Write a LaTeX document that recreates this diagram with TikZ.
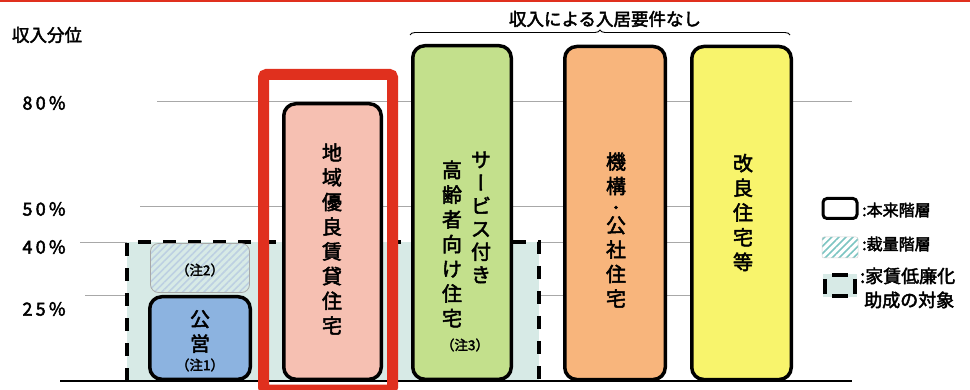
\documentclass[tikz,border=0pt]{standalone}
\usepackage{fontspec}
\setmainfont{Noto Sans CJK JP}[FakeBold=2.5]
\newfontfamily\pctfont{Noto Sans CJK JP}[FakeBold=2.5,LetterSpace=18]
\usetikzlibrary{patterns.meta,decorations.pathreplacing}
\definecolor{redc}{HTML}{E0301E}
\definecolor{tealc}{HTML}{D7EAE6}
\definecolor{bluec}{HTML}{8CB3E0}
\definecolor{pinkc}{HTML}{F6C0B2}
\definecolor{greenc}{HTML}{C3E08C}
\definecolor{orangec}{HTML}{F8B57C}
\definecolor{yellowc}{HTML}{F8F46C}
\definecolor{gridc}{HTML}{A8A8A8}
\definecolor{hatchb}{HTML}{BDD0E2}
\definecolor{hatcht}{HTML}{7CC5C2}
\newcommand{\vbar}{{\addfontfeature{RawFeature=+vert}ー}}
\tikzset{
  grid/.style={draw=gridc, line width=0.8pt},
  bar/.style={draw=black, line width=3.5pt, rounded corners=12pt, inner sep=0pt},
  vtext/.style={align=center, inner sep=0pt, font=\fontsize{20}{24.7}\selectfont},
  lab/.style={inner sep=0pt, font=\fontsize{17.5}{20}\selectfont},
  pct/.style={inner sep=0pt, font=\pctfont\fontsize{18}{20}\selectfont},
  note/.style={inner sep=0pt, font=\fontsize{13.5}{16}\selectfont},
  leg/.style={inner sep=0pt, anchor=west, align=left},
  dsh/.style={line width=4pt, dash pattern=on 13pt off 12pt}
}
\begin{document}
\begin{tikzpicture}[x=1pt,y=-1pt]
\useasboundingbox (0,0) rectangle (970,390);
\fill[white] (0,0) rectangle (970,390);
\fill[redc] (0,0) rectangle (970,2.5);
% axis labels
\node[lab] (title) at (47,35) {収入分位};
\node[pct] (p80) at (44,103) {80\%};
\node[pct] (p50) at (44,209) {50\%};
\node[pct] (p40) at (44,247) {40\%};
\node[pct] (p25) at (44,309) {25\%};
% grid lines
\draw[grid] (157,101) -- (852,101);
\draw[grid] (140,206) -- (790,206);
\draw[grid] (80,242) -- (790,242);
\draw[grid] (85,295) -- (790,295);
% subsidy area
\fill[tealc] (127,242) rectangle (539,381);
\draw[dsh] (127,381) -- (127,242) -- (539,242) -- (539,381);
% baseline
\draw[line width=1.4pt] (60,381) -- (852,381);
% bars
\node[bar, fill=bluec, minimum width=100.5pt, minimum height=82.5pt] (koei) at (200,338) {};
\path[pattern={Lines[angle=45,distance=5pt,line width=1.6pt]}, pattern color=hatchb]
  (150.5,243.5) [rounded corners=8pt] rectangle (249.5,292.5);
\node[draw=gridc, line width=0.8pt, rounded corners=8pt, minimum width=99pt, minimum height=49pt] (chu2) at (200,268) {};
\node[bar, fill=pinkc, minimum width=97.5pt, minimum height=275.5pt] (chiiki) at (332.5,241.5) {};
\node[bar, fill=greenc, minimum width=98.5pt, minimum height=333.5pt] (sakoju) at (462,212.5) {};
\node[bar, fill=orangec, minimum width=100.5pt, minimum height=333pt] (kikou) at (615,213) {};
\node[bar, fill=yellowc, minimum width=99.5pt, minimum height=333pt] (kairyo) at (741.5,213) {};
% red frame
\draw[redc, line width=11pt, rounded corners=3pt] (263.5,74.5) rectangle (392.5,390);
% bar texts
\node[note] (t2) at (200,270) {（注2）};
\node[vtext] (tk) at (200,331.5) {公\\営};
\node[note] (t1) at (200,365) {（注1）};
\node[vtext] (tc) at (332,239) {地\\域\\優\\良\\賃\\貸\\住\\宅};
\node[vtext, font=\fontsize{20}{23}\selectfont] (ts1) at (481,217.5) {サ\\\vbar\\ビ\\ス\\付\\き};
\node[vtext] (ts2) at (452,244) {高\\齢\\者\\向\\け\\住\\宅};
\node[note] (t3) at (465,345) {（注3）};
\node[vtext, font=\fontsize{20}{24.5}\selectfont] (tkk) at (616,230) {機\\構\\[-5pt]{\fontsize{15}{15}\selectfont ・}\\[-5pt]公\\社\\住\\宅};
\node[vtext] (tkr) at (743,212.5) {改\\良\\住\\宅\\等};
% brace
\coordinate (bl) at (410,35);
\coordinate (br) at (790,35);
\draw[line width=0.9pt, decorate, decoration={brace, amplitude=5pt}] (bl) -- (br);
\node[lab] (nasi) at (605,19) {収入による入居要件なし};
% legend
\node[draw=black, line width=3pt, rounded corners=4pt, fill=white, minimum width=34pt, minimum height=20pt] (lg1) at (840,208.5) {};
\path[pattern={Lines[angle=45,distance=5pt,line width=1.6pt]}, pattern color=hatcht] (822,237) [rounded corners=2pt] rectangle (858,258);
\node[draw=gridc!50, line width=0.5pt, rounded corners=2pt, minimum width=36pt, minimum height=21pt, inner sep=0pt] (lg2) at (840,247.5) {};
\fill[tealc] (823,274) rectangle (857,297);
\coordinate (lg3) at (840,285.5);
\draw[line width=4pt] (825,279) -- (825,294);
\draw[line width=4pt] (855,279) -- (855,294);
\draw[line width=4pt] (832,275) -- (848,275);
\draw[line width=4pt] (832,296) -- (848,296);
\node[leg, font=\fontsize{16}{18}\selectfont] (l1) at (862,210) {:本来階層};
\node[leg, font=\fontsize{16}{18}\selectfont] (l2) at (862,244) {:裁量階層};
\node[leg, font=\fontsize{18}{24}\selectfont] (l3) at (860,288) {:家賃低廉化\\\ 助成の対象};
\end{tikzpicture}
\end{document}
